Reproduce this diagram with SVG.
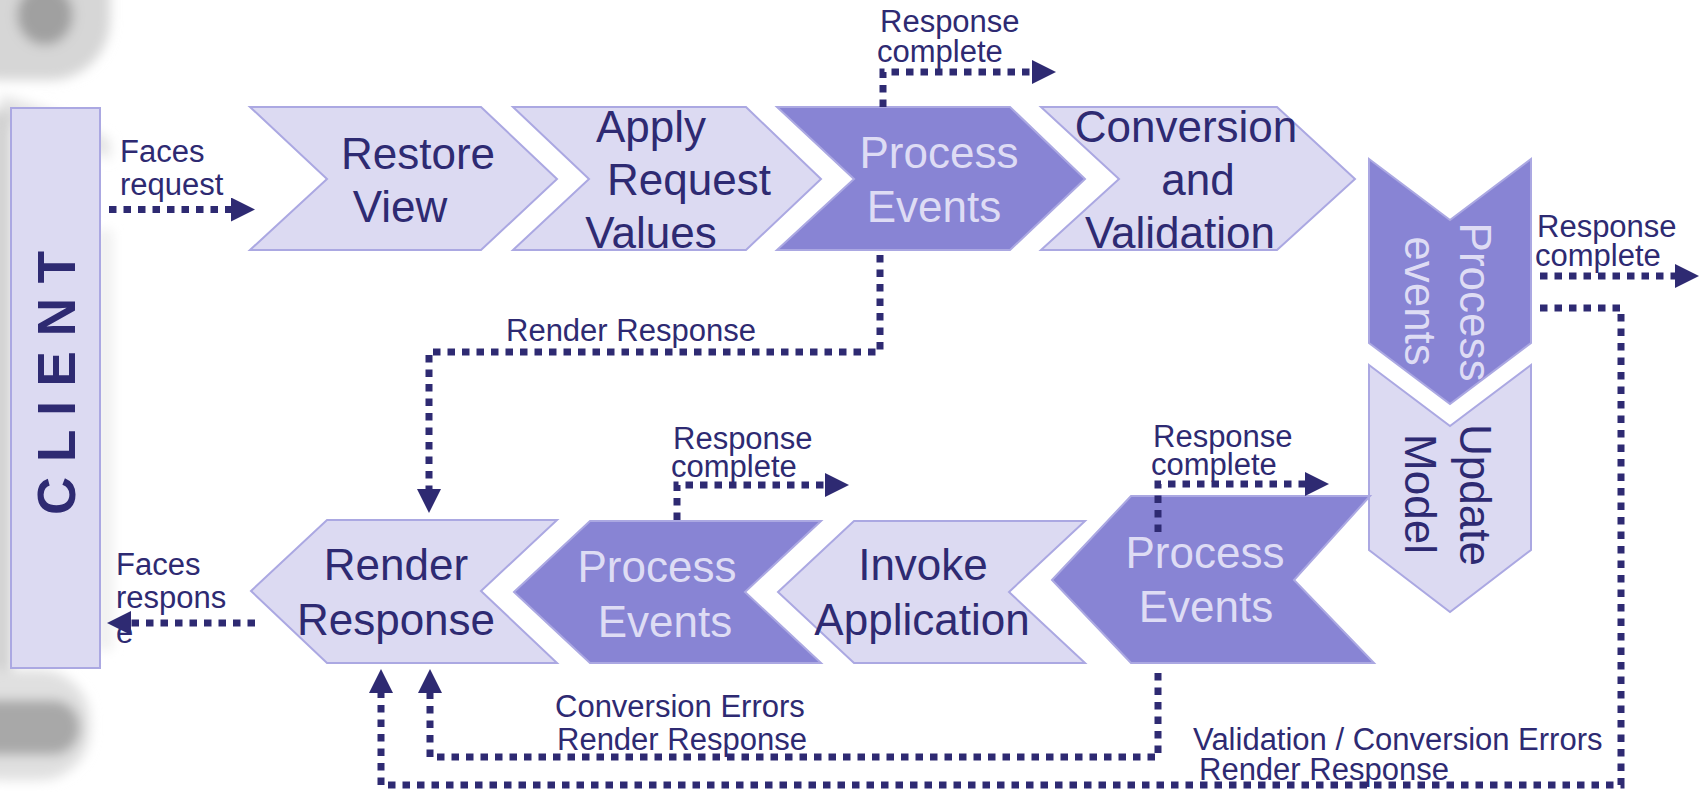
<svg xmlns="http://www.w3.org/2000/svg" width="1699" height="792" viewBox="0 0 1699 792">
<style>
.light{fill:#dcdaf2;stroke:#aba8e2;stroke-width:2}
.dark{fill:#8884d4;stroke:#aba8e2;stroke-width:2}
.big{font-family:"Liberation Sans",Arial,sans-serif;font-size:44px}
.td{fill:#2e2a72}
.tl{fill:#dedcf4}
.lbl{font-family:"Liberation Sans",Arial,sans-serif;font-size:31px;fill:#2e2a72}
.conn{fill:none;stroke:#2e2a72;stroke-width:7;stroke-dasharray:7.5 7}
</style>
<defs>
<marker id="ah" markerUnits="userSpaceOnUse" markerWidth="24" markerHeight="24" refX="12" refY="12" orient="auto" viewBox="0 0 24 24">
<path d="M0,0 L24,12 L0,24 z" fill="#2e2a72"/>
</marker>
<filter id="blur" x="-50%" y="-50%" width="200%" height="200%"><feGaussianBlur stdDeviation="6"/></filter>
</defs>
<rect width="1699" height="792" fill="#ffffff"/>
<g id="watermark" filter="url(#blur)">
<rect x="-60" y="-70" width="170" height="150" rx="60" fill="#d6d6d6"/>
<ellipse cx="45" cy="15" rx="28" ry="30" fill="#a0a0a0"/>
<path d="M0,95 Q60,110 110,140 L110,160 Q60,130 0,125 z" fill="#e4e4e4"/>
<rect x="-10" y="110" width="22" height="560" fill="#d2d2d2"/>
<rect x="98" y="230" width="14" height="420" fill="#eeeeee"/>
<rect x="-50" y="670" width="140" height="110" rx="50" fill="#e0e0e0"/>
<rect x="-40" y="700" width="120" height="55" rx="27" fill="#a8a8a8"/>
</g>
<g id="client">
<rect x="11" y="108" width="89" height="560" class="light"/>
<text class="td" transform="translate(75,383) rotate(-90)" text-anchor="middle" style="font-family:'Liberation Sans',Arial,sans-serif;font-size:53px;font-weight:bold">C L I E N T</text>
</g>
<g id="restore-view">
<polygon class="light" points="250,107 481,107 557,179 481,250 250,250 327,179"/>
<text class="big td" text-anchor="middle"><tspan x="418" y="169">Restore</tspan><tspan x="400" y="222">View</tspan></text>
</g>
<g id="apply-request-values">
<polygon class="light" points="513,107 746,107 821,179 746,250 513,250 589,179"/>
<text class="big td" text-anchor="middle"><tspan x="651" y="142">Apply</tspan><tspan x="689" y="195">Request</tspan><tspan x="651" y="248">Values</tspan></text>
</g>
<g id="process-events-1">
<polygon class="dark" points="777,107 1010,107 1085,179 1010,250 777,250 854,179"/>
<text class="big tl" text-anchor="middle"><tspan x="939" y="168">Process</tspan><tspan x="934" y="222">Events</tspan></text>
</g>
<g id="conversion-validation">
<polygon class="light" points="1041,107 1277,107 1355,179 1277,250 1041,250 1119,179"/>
<text class="big td" text-anchor="middle"><tspan x="1186" y="142">Conversion</tspan><tspan x="1198" y="195">and</tspan><tspan x="1180" y="248">Validation</tspan></text>
</g>
<g id="process-events-2">
<polygon class="dark" points="1369,159 1450,220 1531,159 1531,343 1450,404 1369,343"/>
<text class="big tl" text-anchor="middle" transform="translate(1460,302) rotate(90)">Process</text>
<text class="big tl" text-anchor="middle" transform="translate(1405,301) rotate(90)">events</text>
</g>
<g id="update-model">
<polygon class="light" points="1369,365 1450,426 1531,365 1531,550 1450,612 1369,550"/>
<text class="big td" text-anchor="middle" transform="translate(1460,495) rotate(90)">Update</text>
<text class="big td" text-anchor="middle" transform="translate(1405,494) rotate(90)">Model</text>
</g>
<g id="process-events-3">
<polygon class="dark" points="1052,580 1131,496 1370,496 1294,580 1374,663 1131,663"/>
<text class="big tl" text-anchor="middle"><tspan x="1205" y="568">Process</tspan><tspan x="1206" y="622">Events</tspan></text>
</g>
<g id="invoke-application">
<polygon class="light" points="778,592 854,521 1085,521 1009,592 1085,663 854,663"/>
<text class="big td" text-anchor="middle"><tspan x="923" y="580">Invoke</tspan><tspan x="922" y="635">Application</tspan></text>
</g>
<g id="process-events-4">
<polygon class="dark" points="514,592 590,521 821,521 745,592 821,663 590,663"/>
<text class="big tl" text-anchor="middle"><tspan x="657" y="582">Process</tspan><tspan x="665" y="637">Events</tspan></text>
</g>
<g id="render-response">
<polygon class="light" points="251,591 327,520 557,520 481,591 557,663 327,663"/>
<text class="big td" text-anchor="middle"><tspan x="396" y="580">Render</tspan><tspan x="396" y="635">Response</tspan></text>
</g>
<g id="connectors">
<path class="conn" d="M109,209.5 H243" marker-end="url(#ah)"/>
<path class="conn" d="M255,623 H119" marker-end="url(#ah)"/>
<path class="conn" d="M883,107 V72 H1044" marker-end="url(#ah)"/>
<path class="conn" d="M880,255 V352 H429 V501" marker-end="url(#ah)"/>
<path class="conn" d="M677,520 V485 H837" marker-end="url(#ah)"/>
<path class="conn" d="M1158,532 V484 H1317" marker-end="url(#ah)"/>
<path class="conn" d="M1540,276 H1687" marker-end="url(#ah)"/>
<path class="conn" d="M1540,308 H1621 V785 H381 V681" marker-end="url(#ah)"/>
<path class="conn" d="M1158,673 V757 H430 V681" marker-end="url(#ah)"/>
</g>
<g id="labels">
<text class="lbl"><tspan x="120" y="162">Faces</tspan><tspan x="120" y="195">request</tspan></text>
<text class="lbl"><tspan x="880" y="32">Response</tspan><tspan x="877" y="62">complete</tspan></text>
<text class="lbl" x="506" y="341">Render Response</text>
<text class="lbl"><tspan x="1537" y="237">Response</tspan><tspan x="1535" y="266">complete</tspan></text>
<text class="lbl"><tspan x="673" y="449">Response</tspan><tspan x="671" y="477">complete</tspan></text>
<text class="lbl"><tspan x="1153" y="447">Response</tspan><tspan x="1151" y="475">complete</tspan></text>
<text class="lbl"><tspan x="116" y="575">Faces</tspan><tspan x="116" y="608">respons</tspan><tspan x="116" y="643">e</tspan></text>
<text class="lbl"><tspan x="555" y="717">Conversion Errors</tspan><tspan x="557" y="750">Render Response</tspan></text>
<text class="lbl"><tspan x="1193" y="750">Validation / Conversion Errors</tspan><tspan x="1199" y="780">Render Response</tspan></text>
</g>
</svg>
